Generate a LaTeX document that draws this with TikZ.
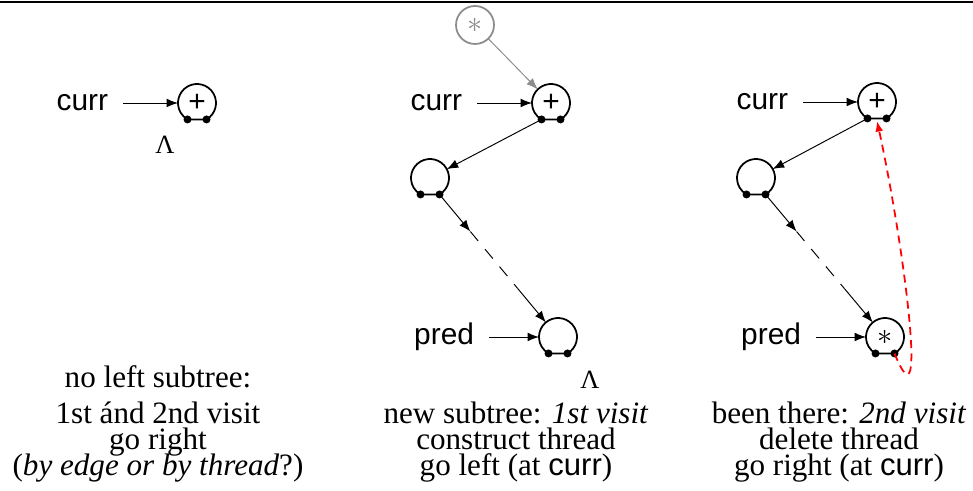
\documentclass[tikz,border=0pt]{standalone}
\usepackage{fontspec}
\setmainfont{Liberation Serif}
\setsansfont{Liberation Sans}
\usetikzlibrary{positioning,arrows.meta,calc}
\definecolor{threadred}{HTML}{FF0000}
\definecolor{ghostgray}{HTML}{8C8C8C}
\newcommand{\notefont}{\fontsize{17.7}{14.6}\selectfont\lineskiplimit=-20pt\relax}

\begin{document}
\begin{tikzpicture}[x=0.02cm, y=0.02cm,
   tnode/.style={circle, minimum size=7.6mm, inner sep=0pt, outer sep=0pt,
                 font=\sffamily\fontsize{17}{17}\selectfont},
   ghost/.style={tnode, draw=ghostgray, line width=1pt, text=ghostgray},
   ptr/.style={font=\sffamily\fontsize{17}{17}\selectfont, inner xsep=3mm,
               inner ysep=0pt, outer sep=0pt},
   nil/.style={font=\fontsize{15}{15}\selectfont, inner sep=0pt},
   note/.style={align=center, anchor=north, inner sep=0pt, font=\notefont},
   link/.style={line width=0.55pt},
   >={Latex[length=6.5pt,width=5pt]}]
  \useasboundingbox (0,0) rectangle (973,490);
  \draw[line width=1pt] (0,488) -- (973,488);

  % no left subtree
  \node[tnode] (p1) at (197,387) {+};
  \node[ptr, left=1.1cm of p1] (cu1) {curr};
  \node[nil] (nil1) at (165,345) {Λ};

  % new subtree
  \node[ghost] (g2) at (475,465) {$\ast$};
  \node[tnode] (c2) at (551,387) {+};
  \node[ptr, left=1.1cm of c2] (cu2) {curr};
  \node[tnode] (l2) at (430,312) {};
  \node[tnode] (pr2) at (558,153) {};
  \node[ptr, left=1cm of pr2] (pd2) {pred};
  \node[nil] (nil2) at (590,110) {Λ};

  % been there
  \node[tnode] (c3) at (877,388) {+};
  \node[ptr, left=1.1cm of c3] (cu3) {curr};
  \node[tnode] (l3) at (756,312) {};
  \node[tnode] (pr3) at (885,153) {$\ast$};
  \node[ptr, left=1cm of pr3] (pd3) {pred};

  % open circles with their two child dots
  \foreach \n in {p1,c2,l2,pr2,c3,l3,pr3} {
    \draw[line width=1pt] (\n.-60) arc[start angle=-60, end angle=240, radius=0.38cm] -- cycle;
    \fill (\n.-60) circle (0.08cm) (\n.240) circle (0.08cm);
  }

  \draw[link,->] (cu1) -- (p1);
  \draw[link,->] (cu2) -- (c2);
  \draw[link,->] (pd2) -- (pr2);
  \draw[link,->] (cu3) -- (c3);
  \draw[link,->] (pd3) -- (pr3);
  \draw[link,->,ghostgray] (g2) -- (c2);

  \foreach \c/\l/\p in {c2/l2/pr2, c3/l3/pr3} {
    \coordinate (\l a) at ($(\l.-60)!0.26!(\p)$);
    \coordinate (\l b) at ($(\l.-60)!0.66!(\p)$);
    \draw[link,->] (\c.240) -- (\l);
    \draw[link,->] (\l.-60) -- (\l a);
    \draw[link,dash pattern=on 7pt off 6pt] (\l a) -- (\l b);
    \draw[link,->] (\l b) -- (\p);
  }

  % thread back to curr
  \draw[threadred, line width=1pt, dash pattern=on 4.5pt off 3pt,
        -{Latex[length=6pt,width=4.5pt]}]
    (pr3.-60) .. controls +(35,-86) and +(26,-119) .. (c3.south);

  \node[note] (t1) at (158,125) {no left subtree:\\[0.22cm]
    1st ánd 2nd visit\\ go right\\ (\textit{by edge or by thread}?)};
  \node[note] (t2) at (516,88) {new subtree: \textit{1st visit}\\
    construct thread\\ go left (at \textsf{curr})};
  \node[note] (t3) at (839,88) {been there: \textit{2nd visit}\\
    delete thread\\ go right (at \textsf{curr})};
\end{tikzpicture}
\end{document}
